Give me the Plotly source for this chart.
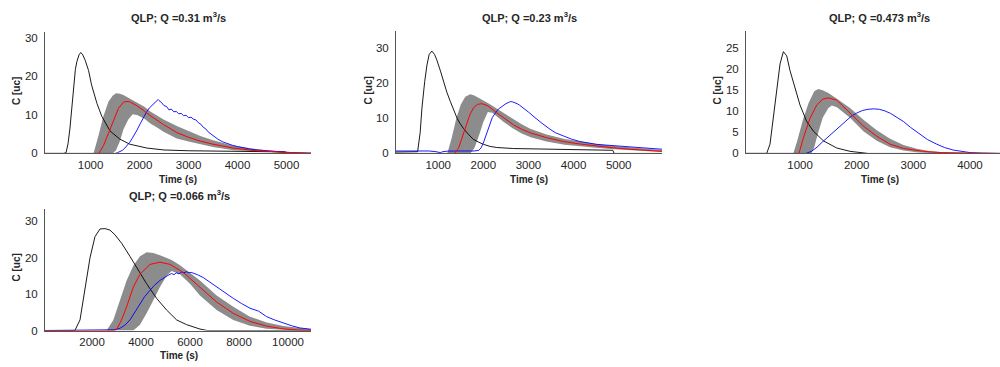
import plotly.graph_objects as go

W, H = 1000, 367

# ---------------- Panel 1: Q = 0.31 ----------------
p1_title = "QLP; Q =0.31 m<sup>3</sup>/s"
p1_black_t = [70, 450, 500, 540, 580, 620, 650, 690, 720, 765, 800, 840, 890, 960, 1020, 1130, 1230, 1400, 1600, 1800, 2150, 2500, 3000, 3500, 4000, 4500, 4980, 5000, 5500]
p1_black = [0, 0, 0.2, 2.5, 6.6, 12.5, 17.7, 21.8, 23.8, 25.6, 26.2, 25.6, 24.2, 21.5, 17.8, 13.0, 9.6, 5.8, 3.7, 2.4, 1.4, 0.9, 0.7, 0.6, 0.5, 0.45, 0.4, 0, 0]
p1_band_t = [70, 1000, 1060, 1160, 1260, 1365, 1450, 1520, 1600, 1670, 1770, 1860, 1950, 2100, 2220, 2350, 2490, 2760, 3000, 3240, 3500, 3920, 4300, 4600, 5000, 5500]
p1_upper = [0, 0, 0, 4.5, 9.6, 13.4, 15.0, 15.6, 15.5, 15.2, 14.5, 13.9, 13.2, 12.1, 10.9, 9.9, 8.8, 7.1, 5.7, 4.5, 3.4, 2.0, 1.3, 0.85, 0.45, 0.2]
p1_lower = [0, 0, 0, 0, 0, 0, 0, 0.8, 3.2, 6.2, 8.8, 10.2, 10.0, 9.0, 7.8, 6.8, 5.6, 3.9, 3.1, 2.4, 1.7, 0.85, 0.5, 0.35, 0.15, 0.05]
p1_red_t = [70, 1170, 1263, 1365, 1468, 1570, 1672, 1740, 1800, 1945, 2100, 2218, 2490, 2763, 3000, 3240, 3500, 3921, 4300, 4604, 5000, 5500]
p1_red = [0, 0, 2.0, 5.4, 8.8, 11.7, 13.3, 13.5, 13.4, 12.4, 11.0, 9.8, 7.5, 5.4, 4.2, 3.2, 2.4, 1.4, 0.8, 0.5, 0.25, 0.1]
p1_blue_t = [70, 1500, 1550, 1600, 1650, 1700, 1750, 1800, 1850, 1900, 1950, 2000, 2050, 2100, 2150, 2200, 2250, 2300, 2350, 2380, 2400, 2450, 2500, 2550, 2600, 2650, 2700, 2750, 2800, 2850, 2900, 2950, 3000, 3050, 3100, 3150, 3200, 3250, 3300, 3350, 3400, 3450, 3500, 3600, 3700, 3800, 3900, 4000, 4100, 4250, 4400, 4600, 4800, 5000, 5200, 5500]
p1_blue = [0, 0, 0.2, 0.4, 0.8, 1.4, 2.1, 2.9, 3.9, 4.9, 6.1, 7.4, 8.6, 9.9, 10.9, 11.8, 12.4, 13.1, 13.6, 14.0, 13.7, 13.2, 12.4, 12.2, 11.3, 11.5, 10.8, 10.9, 10.3, 10.4, 9.8, 9.9, 9.3, 9.4, 8.9, 8.7, 8.0, 7.6, 6.8, 6.4, 5.6, 5.1, 4.6, 3.7, 3.0, 2.5, 2.1, 1.8, 1.5, 1.15, 0.9, 0.65, 0.45, 0.3, 0.15, 0.05]

# ---------------- Panel 2: Q = 0.23 ----------------
p2_title = "QLP; Q =0.23 m<sup>3</sup>/s"
p2_black_t = [64, 500, 543, 600, 639, 700, 750, 800, 860, 920, 971, 1050, 1118, 1190, 1266, 1340, 1413, 1480, 1561, 1680, 1782, 1900, 2003, 2150, 2298, 2667, 3000, 3404, 3800, 4142, 4500, 4806, 4870, 4900, 5960]
p2_black = [0.4, 0.4, 0.5, 6, 13, 20.5, 25.2, 28.3, 29.2, 28.2, 26.6, 23.5, 20.5, 17.5, 14.9, 12.4, 10.2, 8.6, 7.1, 5.3, 4.0, 3.2, 2.6, 2.0, 1.7, 1.4, 1.35, 1.3, 1.2, 1.0, 0.95, 0.9, 0.9, 0, 0]
p2_band_t = [64, 1200, 1300, 1400, 1500, 1600, 1710, 1800, 1900, 2000, 2100, 2200, 2300, 2450, 2650, 2850, 3050, 3400, 3800, 4150, 4500, 4900, 5250, 5600, 5960]
p2_upper = [0, 0, 4.5, 10.0, 14.0, 16.2, 16.9, 16.5, 15.8, 15.2, 14.4, 13.6, 12.8, 11.4, 9.8, 8.3, 7.0, 5.4, 4.1, 3.3, 2.7, 2.1, 1.7, 1.3, 1.0]
p2_lower = [0, 0, 0, 0, 0, 0, 0, 1.5, 5.0, 9.0, 11.8, 11.6, 10.6, 9.0, 7.2, 5.7, 4.6, 3.4, 2.5, 2.0, 1.6, 1.2, 0.9, 0.65, 0.45]
p2_red_t = [64, 1360, 1450, 1530, 1630, 1700, 1780, 1870, 1965, 2100, 2296, 2450, 2665, 2850, 3034, 3403, 3772, 4141, 4510, 4879, 5248, 5617, 5960]
p2_red = [0, 0, 1.5, 4.5, 8.5, 11.0, 13.0, 14.0, 14.2, 13.6, 11.6, 10.2, 8.2, 6.9, 5.9, 4.5, 3.4, 2.7, 2.1, 1.6, 1.2, 0.9, 0.6]
p2_blue_t = [64, 400, 800, 950, 1046, 1100, 1200, 1400, 1600, 1800, 1900, 1950, 2000, 2050, 2100, 2150, 2200, 2250, 2300, 2350, 2400, 2450, 2500, 2550, 2600, 2650, 2700, 2750, 2800, 2889, 3000, 3100, 3184, 3300, 3479, 3600, 3774, 3950, 4142, 4300, 4511, 4700, 4879, 5050, 5248, 5450, 5617, 5800, 5960]
p2_blue = [0.7, 0.75, 0.7, 0.5, 0.25, 0.5, 0.65, 0.7, 0.65, 0.7, 0.9, 1.6, 3.0, 4.8, 7.0, 8.8, 10.3, 11.2, 12.2, 12.8, 13.3, 13.9, 14.2, 14.5, 14.8, 14.7, 14.5, 14.2, 13.8, 13.0, 11.8, 10.7, 9.7, 8.6, 6.9, 5.9, 5.0, 4.1, 3.4, 3.0, 2.6, 2.4, 2.2, 2.0, 1.9, 1.7, 1.5, 1.35, 1.2]

# ---------------- Panel 3: Q = 0.473 ----------------
p3_title = "QLP; Q =0.473 m<sup>3</sup>/s"
p3_black_t = [45, 410, 469, 528, 587, 646, 705, 764, 822, 911, 999, 1117, 1235, 1411, 1647, 1882, 2059, 2200, 4530]
p3_black = [0, 0, 2.2, 8.4, 15.4, 21.3, 24.2, 23.2, 19.7, 15.4, 11.5, 7.6, 5.3, 3.0, 1.3, 0.5, 0.15, 0, 0]
p3_band_t = [45, 880, 950, 1050, 1150, 1200, 1250, 1320, 1400, 1500, 1560, 1650, 1882, 2118, 2354, 2589, 2825, 3060, 3300, 3600, 4000, 4530]
p3_upper = [0, 0, 3, 8, 12, 13.6, 14.8, 15.3, 15.0, 14.4, 13.9, 13.0, 10.8, 8.0, 5.5, 3.5, 2.0, 1.1, 0.55, 0.2, 0.05, 0]
p3_lower = [0, 0, 0, 0, 0, 0, 1.5, 5, 8.5, 10.8, 11.4, 11.0, 8.5, 5.3, 3.0, 1.5, 0.7, 0.3, 0.1, 0, 0, 0]
p3_red_t = [45, 980, 1058, 1176, 1294, 1400, 1500, 1647, 1882, 2118, 2354, 2589, 2825, 3178, 3500, 4000, 4530]
p3_red = [0, 0, 3.7, 8.4, 11.5, 12.9, 13.2, 12.7, 9.6, 6.5, 4.1, 2.2, 1.2, 0.5, 0.2, 0.05, 0]
p3_blue_t = [45, 1100, 1200, 1300, 1400, 1500, 1600, 1700, 1800, 1900, 2000, 2100, 2200, 2300, 2400, 2500, 2600, 2700, 2825, 2950, 3119, 3250, 3414, 3550, 3708, 3850, 4002, 4200, 4530]
p3_blue = [0, 0, 0.5, 1.5, 2.8, 4.0, 5.3, 6.6, 7.8, 8.8, 9.6, 10.2, 10.5, 10.6, 10.5, 10.1, 9.5, 8.7, 7.6, 6.2, 4.5, 3.3, 2.2, 1.4, 0.8, 0.45, 0.2, 0.08, 0]

# ---------------- Panel 4: Q = 0.066 ----------------
p4_title = "QLP; Q =0.066 m<sup>3</sup>/s"
p4_black_t = [80, 1300, 1509, 1713, 1917, 2121, 2325, 2529, 2733, 2937, 3209, 3549, 3957, 4229, 4638, 5046, 5454, 5862, 6406, 6700, 10940]
p4_black = [0, 0, 2.9, 11, 19.9, 25.7, 27.8, 27.9, 27.5, 26.2, 23.9, 20.3, 15.9, 12.8, 8.8, 5.6, 2.9, 1.6, 0.4, 0, 0]
p4_band_t = [80, 2597, 2869, 3141, 3413, 3685, 3957, 4229, 4502, 4774, 5046, 5250, 5590, 6000, 6406, 7087, 7767, 8447, 9128, 9808, 10488, 10940]
p4_upper = [0, 0, 2.9, 8.3, 13.7, 17.7, 20.3, 21.4, 21.2, 20.6, 19.9, 19.3, 17.9, 15.8, 13.7, 9.6, 6.5, 3.8, 2.2, 1.2, 0.6, 0.35]
p4_lower = [0, 0, 0, 0, 0, 0, 1.6, 4.7, 8.3, 11.9, 15.0, 16.3, 15.4, 12.8, 9.6, 5.6, 2.9, 1.3, 0.5, 0.2, 0.05, 0]
p4_red_t = [80, 2900, 3005, 3200, 3413, 3685, 3957, 4366, 4774, 5182, 5726, 6406, 7087, 7767, 8447, 9128, 9808, 10488, 10940]
p4_red = [0, 0, 0.3, 2.8, 6.5, 11.9, 15.4, 18.1, 18.7, 18.1, 15.9, 11.9, 7.8, 4.7, 2.5, 1.2, 0.45, 0.1, 0.05]
p4_blue_t = [80, 2600, 2900, 3141, 3350, 3549, 3750, 3957, 4150, 4366, 4550, 4774, 4950, 5100, 5250, 5350, 5450, 5550, 5650, 5750, 5862, 5950, 6050, 6134, 6300, 6542, 6800, 7087, 7400, 7767, 8100, 8447, 8800, 9128, 9450, 9808, 10150, 10488, 10940]
p4_blue = [0, 0, 0.2, 0.6, 1.5, 2.9, 5.0, 7.4, 9.3, 11.0, 12.4, 13.7, 14.5, 15.1, 15.6, 15.3, 15.8, 15.5, 16.0, 15.8, 16.1, 15.8, 15.9, 15.7, 15.3, 14.5, 13.3, 11.9, 10.3, 8.8, 7.4, 6.1, 5.3, 3.8, 2.9, 2.0, 1.3, 0.7, 0.35]

# axis ranges and ticks
x_ranges = [[70, 5500], [64, 5960], [45, 4530], [80, 10940]]
y_ranges = [[0, 31.4], [0, 34.8], [0, 29.0], [0, 33.4]]
x_ticks = [[1000, 2000, 3000, 4000, 5000], [1000, 2000, 3000, 4000, 5000], [1000, 2000, 3000, 4000], [2000, 4000, 6000, 8000, 10000]]
y_ticks = [[0, 10, 20, 30], [0, 10, 20, 30], [0, 5, 10, 15, 20, 25], [0, 10, 20, 30]]

panels = [
    (p1_title, p1_black_t, p1_black, p1_band_t, p1_upper, p1_lower, p1_red_t, p1_red, p1_blue_t, p1_blue),
    (p2_title, p2_black_t, p2_black, p2_band_t, p2_upper, p2_lower, p2_red_t, p2_red, p2_blue_t, p2_blue),
    (p3_title, p3_black_t, p3_black, p3_band_t, p3_upper, p3_lower, p3_red_t, p3_red, p3_blue_t, p3_blue),
    (p4_title, p4_black_t, p4_black, p4_band_t, p4_upper, p4_lower, p4_red_t, p4_red, p4_blue_t, p4_blue),
]

# pixel boxes (left, right, top, bottom) of each axes
boxes = [(45, 311, 33, 156), (396, 662, 32, 156), (746, 1000, 32, 156), (45, 311, 212, 336)]
title_x = [178, 529, 879, 179]
title_y = [17, 17, 17, 198]
xlabel_x = [178, 529, 880, 179]
xlabel_y = [182, 182, 182, 361]
ylabel_x = [17, 368, 717, 17]

fig = go.Figure()
layout = dict(
    width=W, height=H, margin=dict(l=0, r=0, t=0, b=0),
    paper_bgcolor="white", plot_bgcolor="white", showlegend=False,
    font=dict(family="Liberation Sans, Arial, sans-serif", color="#262626"),
)
annotations = []
tickfont = dict(family="Liberation Sans, Arial, sans-serif", size=11.5, color="#262626")
labfont = dict(family="Liberation Sans, Arial, sans-serif", size=10, color="#262626")

for i, (title, bt, bv, bandt, up, lo, rt, rv, blt, blv) in enumerate(panels):
    n = "" if i == 0 else str(i + 1)
    xa, ya = "x" + n, "y" + n
    band_x = list(bandt) + list(bandt)[::-1]
    band_y = list(up) + list(lo)[::-1]
    fig.add_trace(go.Scatter(x=band_x, y=band_y, fill="toself", fillcolor="#8c8c8c",
                             line=dict(width=0, color="#8c8c8c"), mode="lines",
                             xaxis=xa, yaxis=ya, hoverinfo="skip"))
    fig.add_trace(go.Scatter(x=bt, y=bv, mode="lines", line=dict(color="#000000", width=0.9),
                             xaxis=xa, yaxis=ya))
    fig.add_trace(go.Scatter(x=blt, y=blv, mode="lines", line=dict(color="#0000ff", width=0.9),
                             xaxis=xa, yaxis=ya))
    fig.add_trace(go.Scatter(x=rt, y=rv, mode="lines", line=dict(color="#ff0000", width=1),
                             xaxis=xa, yaxis=ya))
    l, r, t, b = boxes[i]
    layout["xaxis" + n] = dict(
        domain=[l / W, r / W], range=x_ranges[i], anchor=ya,
        tickvals=x_ticks[i], ticktext=[str(v) for v in x_ticks[i]],
        showgrid=False, zeroline=False, showline=True, linecolor="#555555", linewidth=1,
        ticks="", tickfont=tickfont, ticklabelstandoff=1,
    )
    layout["yaxis" + n] = dict(
        domain=[(H - b) / H, (H - t) / H], range=y_ranges[i], anchor=xa,
        tickvals=y_ticks[i], ticktext=[str(v) for v in y_ticks[i]],
        showgrid=False, zeroline=False, showline=True, linecolor="#555555", linewidth=1,
        ticks="", tickfont=tickfont, ticklabelstandoff=4,
    )
    annotations.append(dict(text="<b>" + title + "</b>", x=title_x[i] / W, y=1 - title_y[i] / H,
                            xref="paper", yref="paper", showarrow=False, xanchor="center", yanchor="middle",
                            font=dict(family="Liberation Sans, Arial, sans-serif", size=11, color="#262626")))
    annotations.append(dict(text="<b>Time (s)</b>", x=xlabel_x[i] / W, y=1 - xlabel_y[i] / H,
                            xref="paper", yref="paper", showarrow=False, xanchor="center", yanchor="middle",
                            font=labfont))
    annotations.append(dict(text="<b>C [uc]</b>", x=ylabel_x[i] / W, y=1 - ((t + b) / 2 - 2) / H,
                            xref="paper", yref="paper", showarrow=False, xanchor="center", yanchor="middle",
                            textangle=-90, font=labfont))

layout["annotations"] = annotations
fig.update_layout(**layout)
fig.write_html("out.html", config={"displayModeBar": False})

# remove the browser's default page margin so the figure sits at the window's corner
with open("out.html", "r", encoding="utf-8") as f:
    html = f.read()
html = html.replace("<head>", "<head><style>html,body{margin:0;padding:0;overflow:hidden;}</style>", 1)
with open("out.html", "w", encoding="utf-8") as f:
    f.write(html)
